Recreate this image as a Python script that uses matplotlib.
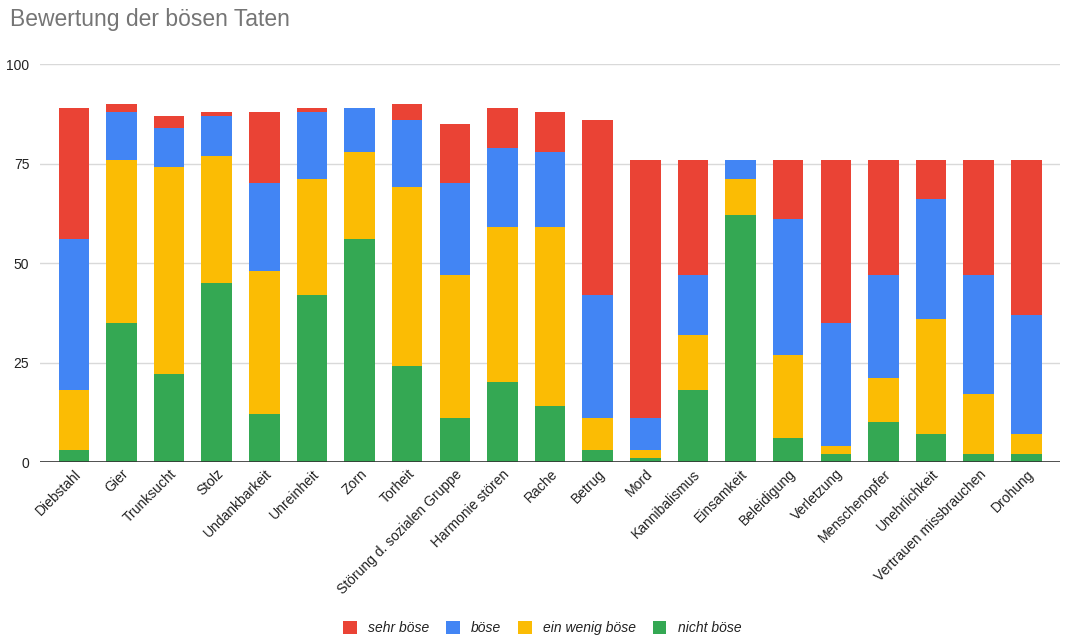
import matplotlib.pyplot as plt
import numpy as np

plt.rcParams['font.family'] = ['Liberation Sans', 'DejaVu Sans']

taten = ["Diebstahl", "Gier", "Trunksucht", "Stolz", "Undankbarkeit", "Unreinheit",
         "Zorn", "Torheit", "Störung d. sozialen Gruppe", "Harmonie stören", "Rache",
         "Betrug", "Mord", "Kannibalismus", "Einsamkeit", "Beleidigung", "Verletzung",
         "Menschenopfer", "Unehrlichkeit", "Vertrauen missbrauchen", "Drohung"]

nicht_boese = [3, 35, 22, 45, 12, 42, 56, 24, 11, 20, 14, 3, 1, 18, 62, 6, 2, 10, 7, 2, 2]
wenig_boese = [15, 41, 52, 32, 36, 29, 22, 45, 36, 39, 45, 8, 2, 14, 9, 21, 2, 11, 29, 15, 5]
boese = [38, 12, 10, 10, 22, 17, 11, 17, 23, 20, 19, 31, 8, 15, 5, 34, 31, 26, 30, 30, 30]
sehr_boese = [33, 2, 3, 1, 18, 1, 0, 4, 15, 10, 10, 44, 65, 29, 0, 15, 41, 29, 10, 29, 39]

series = [("nicht böse", nicht_boese, "#34A853"),
          ("ein wenig böse", wenig_boese, "#FBBC04"),
          ("böse", boese, "#4285F4"),
          ("sehr böse", sehr_boese, "#EA4335")]

fig = plt.figure(figsize=(10.65, 6.37), dpi=100)
ax = fig.add_axes([0.038, 0.2747, 0.957, 0.6248])

x = np.arange(len(taten))
bottom = np.zeros(len(taten))
handles = {}
for name, vals, col in series:
    b = ax.bar(x, vals, 0.64, bottom=bottom, color=col, label=name, zorder=3)
    handles[name] = b
    bottom += np.array(vals)

ax.set_xlim(-0.7, len(taten) - 0.3)
ax.set_ylim(0, 100)
ax.set_yticks([0, 25, 50, 75, 100])
ax.yaxis.grid(True, color="#d9d9d9", linewidth=1, zorder=0)
ax.axhline(0, color="#333333", linewidth=1.2, zorder=4)
for s in ax.spines.values():
    s.set_visible(False)
ax.tick_params(axis="both", length=0, labelsize=10, colors="#222222")
ax.tick_params(axis="y", pad=8)
ax.set_xticks(x)
ax.set_xticklabels(taten, rotation=45, ha="right", rotation_mode="anchor")

fig.text(0.009, 0.988, "Bewertung der bösen Taten", fontsize=16.5, color="#757575",
         va="top", ha="left")

order = ["sehr böse", "böse", "ein wenig böse", "nicht böse"]
leg = fig.legend([handles[n] for n in order], order, loc="center",
                 bbox_to_anchor=(0.509, 0.014), ncol=4, frameon=False,
                 prop={"style": "italic", "size": 10}, handlelength=1.0,
                 handleheight=1.0, columnspacing=1.2, handletextpad=0.8)
for t in leg.get_texts():
    t.set_color("#222222")

fig.savefig("out.png", dpi=100)
